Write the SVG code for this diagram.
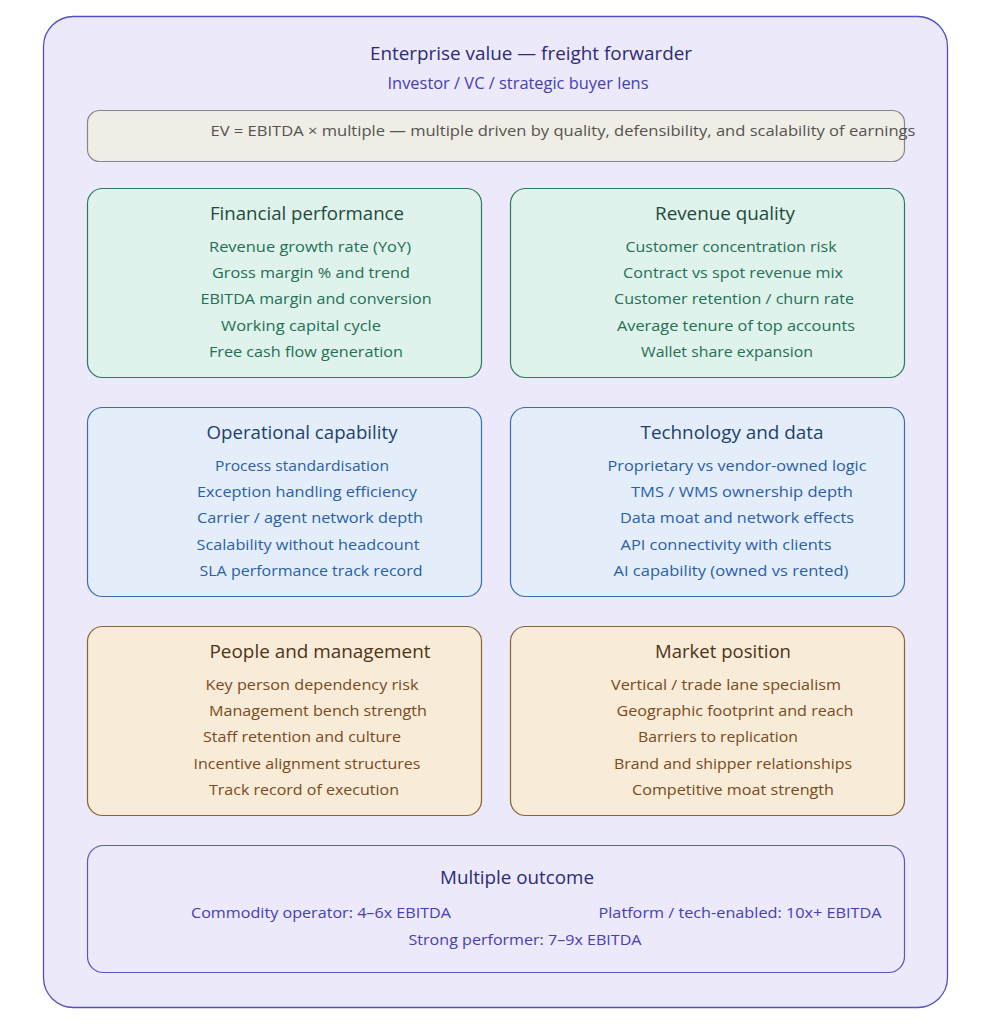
<svg xmlns="http://www.w3.org/2000/svg" width="991" height="1024" viewBox="0 0 991 1024">
<style>
text{font-family:"Open Sans","Noto Sans","DejaVu Sans",sans-serif;text-anchor:middle}
.t{font-size:18.5px}
.i{font-size:15px}
.g rect{fill:#dff2ec;stroke:#2f7a5c;stroke-width:1.2}
.g .t{fill:#1d4a3a}.g .i{fill:#237055}
.b rect{fill:#e3eefa;stroke:#3b6db0;stroke-width:1.2}
.b .t{fill:#1e3f6e}.b .i{fill:#2b5ea8}
.o rect{fill:#f8ebd8;stroke:#8a6233;stroke-width:1.2}
.o .t{fill:#4e3316}.o .i{fill:#7a4a1c}
</style>
<rect width="991" height="1024" fill="#ffffff"/>
<g id="frame">
<rect x="43.5" y="16.5" width="904" height="991" rx="30" fill="#ebe9fa" stroke="#5550c4" stroke-width="1.3"/>
<text x="531" y="60" font-size="19" fill="#2e2a7a" textLength="322" lengthAdjust="spacingAndGlyphs">Enterprise value — freight forwarder</text>
<text x="518" y="89" font-size="15.5" fill="#4640b4" textLength="261" lengthAdjust="spacingAndGlyphs">Investor / VC / strategic buyer lens</text>
</g>
<g id="formula">
<rect x="87.5" y="110.5" width="817" height="51" rx="12" fill="#f0ede6" stroke="#8a8886" stroke-width="1.2"/>
<text x="563" y="136" font-size="15" fill="#555350" textLength="705" lengthAdjust="spacingAndGlyphs">EV = EBITDA × multiple — multiple driven by quality, defensibility, and scalability of earnings</text>
</g>
<g id="connectors"></g>
<g id="financial" class="g">
<rect x="87.5" y="188.5" width="394" height="189" rx="15"/>
<text class="t" x="307" y="220" textLength="194" lengthAdjust="spacingAndGlyphs">Financial performance</text>
<text class="i" x="310" y="252" textLength="202" lengthAdjust="spacingAndGlyphs">Revenue growth rate (YoY)</text>
<text class="i" x="311" y="278" textLength="198" lengthAdjust="spacingAndGlyphs">Gross margin % and trend</text>
<text class="i" x="316" y="304" textLength="231" lengthAdjust="spacingAndGlyphs">EBITDA margin and conversion</text>
<text class="i" x="301" y="331" textLength="160" lengthAdjust="spacingAndGlyphs">Working capital cycle</text>
<text class="i" x="306" y="357" textLength="194" lengthAdjust="spacingAndGlyphs">Free cash flow generation</text>
</g>
<g id="revenue" class="g">
<rect x="510.5" y="188.5" width="394" height="189" rx="15"/>
<text class="t" x="725" y="220" textLength="140" lengthAdjust="spacingAndGlyphs">Revenue quality</text>
<text class="i" x="731" y="252" textLength="211" lengthAdjust="spacingAndGlyphs">Customer concentration risk</text>
<text class="i" x="733" y="278" textLength="220" lengthAdjust="spacingAndGlyphs">Contract vs spot revenue mix</text>
<text class="i" x="734" y="304" textLength="240" lengthAdjust="spacingAndGlyphs">Customer retention / churn rate</text>
<text class="i" x="736" y="331" textLength="238" lengthAdjust="spacingAndGlyphs">Average tenure of top accounts</text>
<text class="i" x="727" y="357" textLength="172" lengthAdjust="spacingAndGlyphs">Wallet share expansion</text>
</g>
<g id="operational" class="b">
<rect x="87.5" y="407.5" width="394" height="189" rx="15"/>
<text class="t" x="302" y="439" textLength="191" lengthAdjust="spacingAndGlyphs">Operational capability</text>
<text class="i" x="302" y="471" textLength="174" lengthAdjust="spacingAndGlyphs">Process standardisation</text>
<text class="i" x="307" y="497" textLength="220" lengthAdjust="spacingAndGlyphs">Exception handling efficiency</text>
<text class="i" x="310" y="523" textLength="226" lengthAdjust="spacingAndGlyphs">Carrier / agent network depth</text>
<text class="i" x="308" y="550" textLength="223" lengthAdjust="spacingAndGlyphs">Scalability without headcount</text>
<text class="i" x="311" y="576" textLength="223" lengthAdjust="spacingAndGlyphs">SLA performance track record</text>
</g>
<g id="technology" class="b">
<rect x="510.5" y="407.5" width="394" height="189" rx="15"/>
<text class="t" x="732" y="439" textLength="183" lengthAdjust="spacingAndGlyphs">Technology and data</text>
<text class="i" x="737" y="471" textLength="259" lengthAdjust="spacingAndGlyphs">Proprietary vs vendor-owned logic</text>
<text class="i" x="742" y="497" textLength="222" lengthAdjust="spacingAndGlyphs">TMS / WMS ownership depth</text>
<text class="i" x="737" y="523" textLength="234" lengthAdjust="spacingAndGlyphs">Data moat and network effects</text>
<text class="i" x="726" y="550" textLength="211" lengthAdjust="spacingAndGlyphs">API connectivity with clients</text>
<text class="i" x="731" y="576" textLength="235" lengthAdjust="spacingAndGlyphs">AI capability (owned vs rented)</text>
</g>
<g id="people" class="o">
<rect x="87.5" y="626.5" width="394" height="189" rx="15"/>
<text class="t" x="320" y="658" textLength="221" lengthAdjust="spacingAndGlyphs">People and management</text>
<text class="i" x="312" y="690" textLength="213" lengthAdjust="spacingAndGlyphs">Key person dependency risk</text>
<text class="i" x="318" y="716" textLength="218" lengthAdjust="spacingAndGlyphs">Management bench strength</text>
<text class="i" x="302" y="742" textLength="198" lengthAdjust="spacingAndGlyphs">Staff retention and culture</text>
<text class="i" x="307" y="769" textLength="227" lengthAdjust="spacingAndGlyphs">Incentive alignment structures</text>
<text class="i" x="304" y="795" textLength="190" lengthAdjust="spacingAndGlyphs">Track record of execution</text>
</g>
<g id="market" class="o">
<rect x="510.5" y="626.5" width="394" height="189" rx="15"/>
<text class="t" x="723" y="658" textLength="136" lengthAdjust="spacingAndGlyphs">Market position</text>
<text class="i" x="726" y="690" textLength="230" lengthAdjust="spacingAndGlyphs">Vertical / trade lane specialism</text>
<text class="i" x="735" y="716" textLength="237" lengthAdjust="spacingAndGlyphs">Geographic footprint and reach</text>
<text class="i" x="718" y="742" textLength="160" lengthAdjust="spacingAndGlyphs">Barriers to replication</text>
<text class="i" x="733" y="769" textLength="238" lengthAdjust="spacingAndGlyphs">Brand and shipper relationships</text>
<text class="i" x="733" y="795" textLength="202" lengthAdjust="spacingAndGlyphs">Competitive moat strength</text>
</g>
<g id="outcome">
<rect x="87.5" y="845.5" width="817" height="127" rx="16" fill="#ebe9fa" stroke="#5a55c6" stroke-width="1.2"/>
<text x="517" y="884" font-size="18.5" fill="#2e2a7a" textLength="154" lengthAdjust="spacingAndGlyphs">Multiple outcome</text>
<text x="321" y="918" font-size="15" fill="#4640b4" textLength="260" lengthAdjust="spacingAndGlyphs">Commodity operator: 4–6x EBITDA</text>
<text x="740" y="918" font-size="15" fill="#4640b4" textLength="283" lengthAdjust="spacingAndGlyphs">Platform / tech-enabled: 10x+ EBITDA</text>
<text x="525" y="945" font-size="15" fill="#4640b4" textLength="233" lengthAdjust="spacingAndGlyphs">Strong performer: 7–9x EBITDA</text>
</g>
</svg>
